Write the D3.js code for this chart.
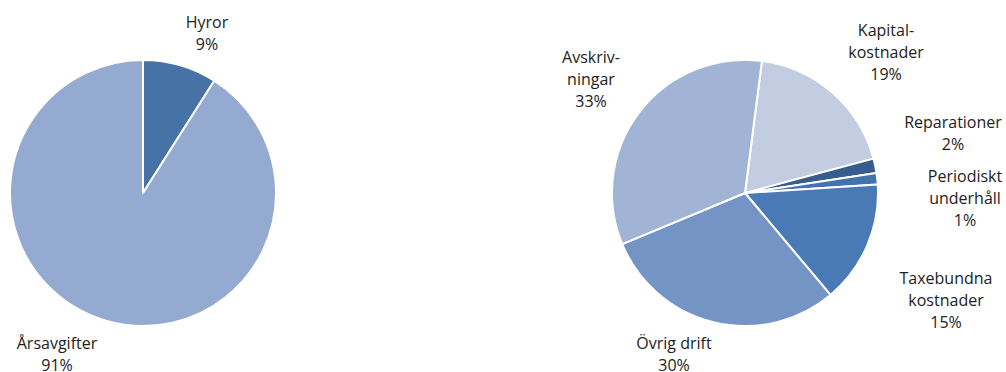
<!DOCTYPE html>
<html><head><meta charset="utf-8">
<script src="https://cdn.jsdelivr.net/npm/d3@7/dist/d3.min.js"></script>
<style>body{margin:0;background:#fff}svg{display:block}text{font-family:"Open Sans","Noto Sans",sans-serif;font-size:16px;fill:#222}</style>
</head><body>
<svg id="c" width="1006" height="372"></svg>
<script>
// Left pie: income
const leftCategories = ["Hyror", "Årsavgifter"];
const leftValues = [9, 91];
const leftLabels = [["Hyror", "9%"], ["Årsavgifter", "91%"]];
// Right pie: costs
const rightCategories = ["Kapitalkostnader", "Reparationer", "Periodiskt underhåll", "Taxebundna kostnader", "Övrig drift", "Avskrivningar"];
const rightValues = [18.8, 1.75, 1.4, 14.9, 29.8, 33.3];
const rightLabels = [["Kapital-", "kostnader", "19%"], ["Reparationer", "2%"], ["Periodiskt", "underhåll", "1%"], ["Taxebundna", "kostnader", "15%"], ["Övrig drift", "30%"], ["Avskriv-", "ningar", "33%"]];

// layout / style
const leftColors = ["#4672a6", "#95aad0"];
const rightColors = ["#c2cde2", "#365d8e", "#4373ae", "#4a7ab5", "#7594c6", "#a1b4d5"];
const leftLabelPos = [[207, 22], [57, 343]];
const rightLabelPos = [[886, 30], [953, 122], [965, 176], [946, 278], [674, 343], [591, 57]];
const R = 133, lineH = 22;

const svg = d3.select("#c");
function drawPie(cx, cy, values, colors, startDeg, labels, pos) {
  const pie = d3.pie().sort(null).value(d => d)
    .startAngle(startDeg * Math.PI / 180).endAngle(startDeg * Math.PI / 180 + 2 * Math.PI);
  const arc = d3.arc().innerRadius(0).outerRadius(R);
  const g = svg.append("g").attr("transform", `translate(${cx},${cy})`);
  g.selectAll("path").data(pie(values)).join("path")
    .attr("d", arc).attr("fill", (d, i) => colors[i])
    .attr("stroke", "#fff").attr("stroke-width", 2).attr("stroke-linejoin", "round");
  labels.forEach((lines, i) => {
    const t = svg.append("text").attr("text-anchor", "middle");
    lines.forEach((l, j) => t.append("tspan").attr("x", pos[i][0]).attr("y", pos[i][1] + j * lineH).attr("dy", "0.35em").text(l));
  });
}
drawPie(143, 193, leftValues, leftColors, 0, leftLabels, leftLabelPos);
drawPie(745, 193, rightValues, rightColors, 7.3, rightLabels, rightLabelPos);
</script>
</body></html>
